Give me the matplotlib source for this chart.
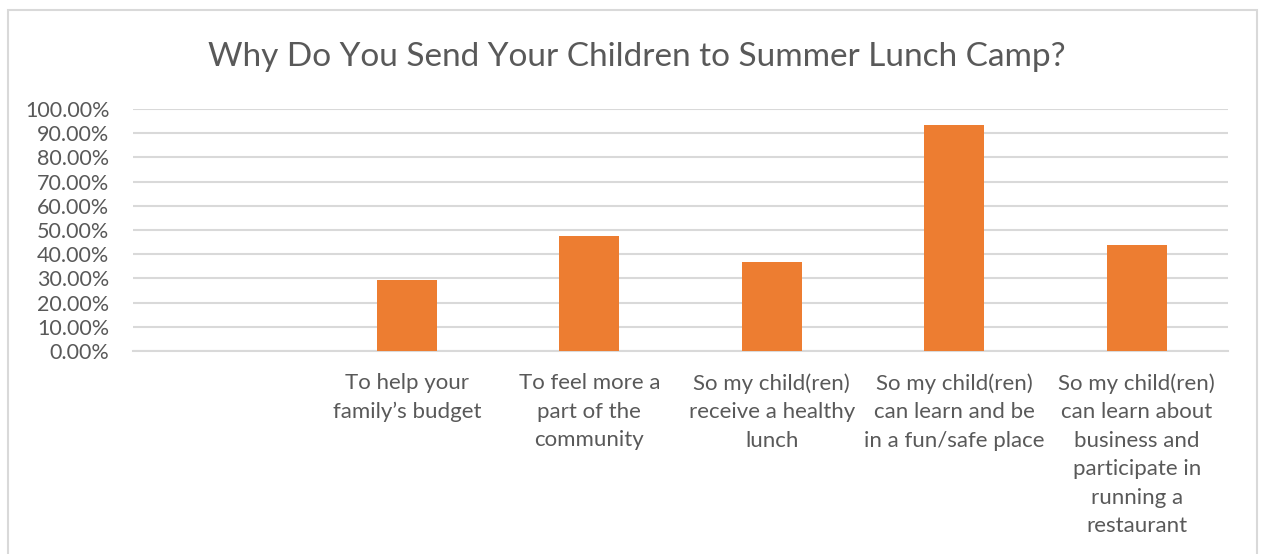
import matplotlib.pyplot as plt
import matplotlib.patches as mpatches
from matplotlib.ticker import PercentFormatter

plt.rcParams['font.family'] = ['Lato', 'DejaVu Sans']

title = 'Why Do You Send Your Children to Summer Lunch Camp?'
categories = ['',
              'To help your\nfamily\u2019s budget',
              'To feel more a\npart of the\ncommunity',
              'So my child(ren)\nreceive a healthy\nlunch',
              'So my child(ren)\ncan learn and be\nin a fun/safe place',
              'So my child(ren)\ncan learn about\nbusiness and\nparticipate in\nrunning a\nrestaurant']
values = [0, 0.294, 0.475, 0.368, 0.932, 0.437]

grey = '#595959'
line_grey = '#d9d9d9'

fig = plt.figure(figsize=(12.61, 5.54), dpi=100)
ax = fig.add_axes([0.1055, 0.3664, 0.8683, 0.4368])

# chart frame
fig.patches.append(mpatches.Rectangle((8 / 1261, -0.05), 1249 / 1261, 1.05 - 10 / 554,
                                      transform=fig.transFigure, fill=False,
                                      edgecolor=line_grey, linewidth=1.5))

x = list(range(len(categories)))
ax.bar(x, values, width=0.33, color='#ED7D31', zorder=3)

ax.set_xlim(-0.5, len(categories) - 0.5)
ax.set_ylim(0, 1.0)
ax.set_yticks([i / 10 for i in range(11)])
ax.yaxis.set_major_formatter(PercentFormatter(1.0, decimals=2))
ax.yaxis.grid(True, color=line_grey, linewidth=1.5, zorder=0)

ax.set_xticks(x)
ax.set_xticklabels(categories, linespacing=1.53)

for side in ['top', 'right', 'left']:
    ax.spines[side].set_visible(False)
ax.spines['bottom'].set_color(line_grey)
ax.spines['bottom'].set_linewidth(1.5)

ax.tick_params(axis='x', length=0, pad=16, labelsize=16, labelcolor=grey)
ax.tick_params(axis='y', length=0, pad=17, labelsize=15.5, labelcolor=grey)

fig.text(0.505, 1 - 57 / 554, title, ha='center', va='center', fontsize=24, color=grey)

fig.savefig('out.png', dpi=100)
